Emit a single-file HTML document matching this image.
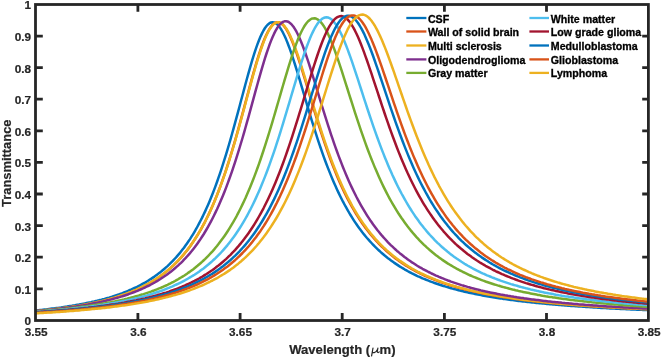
<!DOCTYPE html>
<html><head><meta charset="utf-8"><title>Transmittance</title>
<style>html,body{margin:0;padding:0;background:#fff}svg{display:block;will-change:transform}text{font-family:"Liberation Sans",sans-serif}</style></head>
<body>
<svg width="661" height="358" viewBox="0 0 661 358">
<rect x="0" y="0" width="661" height="358" fill="#fff"/>
<defs><clipPath id="c"><rect x="35.5" y="4.5" width="612.9" height="316.0"/></clipPath></defs>
<g clip-path="url(#c)" fill="none" stroke-width="2.5" stroke-linejoin="round" stroke-linecap="round">
<path d="M35.5 310.5 L37.0 310.3 L38.5 310.2 L40.0 310.0 L41.5 309.9 L43.0 309.7 L44.5 309.5 L46.0 309.4 L47.5 309.2 L49.0 309.0 L50.5 308.8 L52.0 308.6 L53.5 308.5 L55.0 308.3 L56.5 308.1 L58.0 307.9 L59.5 307.7 L61.0 307.5 L62.5 307.2 L64.0 307.0 L65.5 306.8 L67.0 306.6 L68.5 306.3 L70.0 306.1 L71.5 305.9 L73.0 305.6 L74.5 305.4 L76.0 305.1 L77.5 304.8 L79.0 304.6 L80.5 304.3 L82.0 304.0 L83.5 303.7 L85.0 303.4 L86.5 303.1 L88.0 302.8 L89.5 302.5 L91.0 302.2 L92.5 301.8 L94.0 301.5 L95.5 301.1 L97.0 300.8 L98.5 300.4 L100.0 300.0 L101.5 299.7 L103.0 299.3 L104.5 298.9 L106.0 298.4 L107.5 298.0 L109.0 297.6 L110.5 297.1 L112.0 296.7 L113.5 296.2 L115.0 295.7 L116.5 295.2 L118.0 294.7 L119.5 294.2 L121.0 293.6 L122.5 293.1 L124.0 292.5 L125.5 291.9 L127.0 291.3 L128.5 290.7 L130.0 290.0 L131.5 289.4 L133.0 288.7 L134.5 288.0 L136.0 287.3 L137.5 286.6 L139.0 285.8 L140.5 285.0 L142.0 284.2 L143.5 283.4 L145.0 282.6 L146.5 281.7 L148.0 280.8 L149.5 279.8 L151.0 278.9 L152.5 277.9 L154.0 276.9 L155.5 275.8 L157.0 274.7 L158.5 273.6 L160.0 272.4 L161.5 271.3 L163.0 270.0 L164.5 268.7 L166.0 267.4 L167.5 266.1 L169.0 264.7 L170.5 263.2 L172.0 261.7 L173.5 260.1 L175.0 258.5 L176.5 256.9 L178.0 255.1 L179.5 253.4 L181.0 251.5 L182.5 249.6 L184.0 247.7 L185.5 245.6 L187.0 243.5 L188.5 241.3 L190.0 239.1 L191.5 236.7 L193.0 234.3 L194.5 231.8 L196.0 229.2 L197.5 226.5 L199.0 223.7 L200.5 220.8 L202.0 217.9 L203.5 214.8 L205.0 211.6 L206.5 208.3 L208.0 204.9 L209.5 201.4 L211.0 197.7 L212.5 194.0 L214.0 190.1 L215.5 186.1 L217.0 182.0 L218.5 177.7 L220.0 173.3 L221.5 168.8 L223.0 164.2 L224.5 159.4 L226.0 154.6 L227.5 149.6 L229.0 144.5 L230.5 139.3 L232.0 134.0 L233.5 128.6 L235.0 123.2 L236.5 117.6 L238.0 112.1 L239.5 106.5 L241.0 100.8 L242.5 95.2 L244.0 89.6 L245.5 84.0 L247.0 78.5 L248.5 73.1 L250.0 67.8 L251.5 62.6 L253.0 57.7 L254.5 52.9 L256.0 48.4 L257.5 44.2 L259.0 40.2 L260.5 36.6 L262.0 33.4 L263.5 30.5 L265.0 28.0 L266.5 26.0 L268.0 24.4 L269.5 23.2 L271.0 22.5 L272.5 22.2 L274.0 22.4 L275.5 23.1 L277.0 24.2 L278.5 25.7 L280.0 27.6 L281.5 30.0 L283.0 32.7 L284.5 35.7 L286.0 39.1 L287.5 42.8 L289.0 46.7 L290.5 50.9 L292.0 55.2 L293.5 59.8 L295.0 64.5 L296.5 69.3 L298.0 74.2 L299.5 79.2 L301.0 84.3 L302.5 89.4 L304.0 94.5 L305.5 99.5 L307.0 104.6 L308.5 109.7 L310.0 114.6 L311.5 119.6 L313.0 124.4 L314.5 129.2 L316.0 133.9 L317.5 138.6 L319.0 143.1 L320.5 147.5 L322.0 151.8 L323.5 156.1 L325.0 160.2 L326.5 164.2 L328.0 168.1 L329.5 171.9 L331.0 175.6 L332.5 179.2 L334.0 182.7 L335.5 186.1 L337.0 189.4 L338.5 192.6 L340.0 195.7 L341.5 198.7 L343.0 201.7 L344.5 204.5 L346.0 207.2 L347.5 209.9 L349.0 212.5 L350.5 215.0 L352.0 217.4 L353.5 219.8 L355.0 222.1 L356.5 224.3 L358.0 226.4 L359.5 228.5 L361.0 230.5 L362.5 232.5 L364.0 234.4 L365.5 236.2 L367.0 238.0 L368.5 239.7 L370.0 241.4 L371.5 243.0 L373.0 244.6 L374.5 246.2 L376.0 247.7 L377.5 249.1 L379.0 250.5 L380.5 251.9 L382.0 253.2 L383.5 254.5 L385.0 255.8 L386.5 257.0 L388.0 258.2 L389.5 259.3 L391.0 260.4 L392.5 261.5 L394.0 262.6 L395.5 263.6 L397.0 264.6 L398.5 265.6 L400.0 266.6 L401.5 267.5 L403.0 268.4 L404.5 269.3 L406.0 270.1 L407.5 271.0 L409.0 271.8 L410.5 272.6 L412.0 273.4 L413.5 274.1 L415.0 274.8 L416.5 275.6 L418.0 276.3 L419.5 276.9 L421.0 277.6 L422.5 278.3 L424.0 278.9 L425.5 279.5 L427.0 280.1 L428.5 280.7 L430.0 281.3 L431.5 281.9 L433.0 282.4 L434.5 283.0 L436.0 283.5 L437.5 284.0 L439.0 284.5 L440.5 285.0 L442.0 285.5 L443.5 286.0 L445.0 286.4 L446.5 286.9 L448.0 287.3 L449.5 287.8 L451.0 288.2 L452.5 288.6 L454.0 289.0 L455.5 289.4 L457.0 289.8 L458.5 290.2 L460.0 290.6 L461.5 290.9 L463.0 291.3 L464.5 291.7 L466.0 292.0 L467.5 292.3 L469.0 292.7 L470.5 293.0 L472.0 293.3 L473.5 293.6 L475.0 293.9 L476.5 294.2 L478.0 294.5 L479.5 294.8 L481.0 295.1 L482.5 295.4 L484.0 295.7 L485.5 296.0 L487.0 296.2 L488.5 296.5 L490.0 296.7 L491.5 297.0 L493.0 297.2 L494.5 297.5 L496.0 297.7 L497.5 298.0 L499.0 298.2 L500.5 298.4 L502.0 298.6 L503.5 298.9 L505.0 299.1 L506.5 299.3 L508.0 299.5 L509.5 299.7 L511.0 299.9 L512.5 300.1 L514.0 300.3 L515.5 300.5 L517.0 300.7 L518.5 300.9 L520.0 301.0 L521.5 301.2 L523.0 301.4 L524.5 301.6 L526.0 301.8 L527.5 301.9 L529.0 302.1 L530.5 302.3 L532.0 302.4 L533.5 302.6 L535.0 302.7 L536.5 302.9 L538.0 303.0 L539.5 303.2 L541.0 303.3 L542.5 303.5 L544.0 303.6 L545.5 303.8 L547.0 303.9 L548.5 304.0 L550.0 304.2 L551.5 304.3 L553.0 304.4 L554.5 304.6 L556.0 304.7 L557.5 304.8 L559.0 305.0 L560.5 305.1 L562.0 305.2 L563.5 305.3 L565.0 305.4 L566.5 305.6 L568.0 305.7 L569.5 305.8 L571.0 305.9 L572.5 306.0 L574.0 306.1 L575.5 306.2 L577.0 306.3 L578.5 306.4 L580.0 306.5 L581.5 306.6 L583.0 306.7 L584.5 306.8 L586.0 306.9 L587.5 307.0 L589.0 307.1 L590.5 307.2 L592.0 307.3 L593.5 307.4 L595.0 307.5 L596.5 307.6 L598.0 307.7 L599.5 307.8 L601.0 307.9 L602.5 307.9 L604.0 308.0 L605.5 308.1 L607.0 308.2 L608.5 308.3 L610.0 308.4 L611.5 308.4 L613.0 308.5 L614.5 308.6 L616.0 308.7 L617.5 308.7 L619.0 308.8 L620.5 308.9 L622.0 309.0 L623.5 309.0 L625.0 309.1 L626.5 309.2 L628.0 309.2 L629.5 309.3 L631.0 309.4 L632.5 309.5 L634.0 309.5 L635.5 309.6 L637.0 309.7 L638.5 309.7 L640.0 309.8 L641.5 309.8 L643.0 309.9 L644.5 310.0 L646.0 310.0 L647.5 310.1" stroke="#0072BD"/>
<path d="M35.5 311.2 L37.0 311.1 L38.5 311.0 L40.0 310.8 L41.5 310.7 L43.0 310.5 L44.5 310.4 L46.0 310.2 L47.5 310.0 L49.0 309.9 L50.5 309.7 L52.0 309.5 L53.5 309.4 L55.0 309.2 L56.5 309.0 L58.0 308.8 L59.5 308.6 L61.0 308.4 L62.5 308.3 L64.0 308.0 L65.5 307.8 L67.0 307.6 L68.5 307.4 L70.0 307.2 L71.5 307.0 L73.0 306.7 L74.5 306.5 L76.0 306.3 L77.5 306.0 L79.0 305.8 L80.5 305.5 L82.0 305.3 L83.5 305.0 L85.0 304.7 L86.5 304.4 L88.0 304.1 L89.5 303.9 L91.0 303.6 L92.5 303.2 L94.0 302.9 L95.5 302.6 L97.0 302.3 L98.5 301.9 L100.0 301.6 L101.5 301.2 L103.0 300.9 L104.5 300.5 L106.0 300.1 L107.5 299.7 L109.0 299.3 L110.5 298.9 L112.0 298.5 L113.5 298.0 L115.0 297.6 L116.5 297.1 L118.0 296.7 L119.5 296.2 L121.0 295.7 L122.5 295.2 L124.0 294.7 L125.5 294.1 L127.0 293.6 L128.5 293.0 L130.0 292.4 L131.5 291.8 L133.0 291.2 L134.5 290.6 L136.0 289.9 L137.5 289.2 L139.0 288.6 L140.5 287.8 L142.0 287.1 L143.5 286.4 L145.0 285.6 L146.5 284.8 L148.0 284.0 L149.5 283.1 L151.0 282.3 L152.5 281.4 L154.0 280.4 L155.5 279.5 L157.0 278.5 L158.5 277.5 L160.0 276.4 L161.5 275.3 L163.0 274.2 L164.5 273.1 L166.0 271.9 L167.5 270.6 L169.0 269.4 L170.5 268.1 L172.0 266.7 L173.5 265.3 L175.0 263.9 L176.5 262.4 L178.0 260.8 L179.5 259.2 L181.0 257.6 L182.5 255.9 L184.0 254.1 L185.5 252.3 L187.0 250.4 L188.5 248.4 L190.0 246.4 L191.5 244.3 L193.0 242.1 L194.5 239.9 L196.0 237.5 L197.5 235.1 L199.0 232.6 L200.5 230.1 L202.0 227.4 L203.5 224.6 L205.0 221.8 L206.5 218.8 L208.0 215.7 L209.5 212.6 L211.0 209.3 L212.5 205.9 L214.0 202.4 L215.5 198.8 L217.0 195.1 L218.5 191.2 L220.0 187.2 L221.5 183.1 L223.0 178.9 L224.5 174.6 L226.0 170.1 L227.5 165.5 L229.0 160.8 L230.5 155.9 L232.0 151.0 L233.5 145.9 L235.0 140.8 L236.5 135.5 L238.0 130.1 L239.5 124.7 L241.0 119.2 L242.5 113.7 L244.0 108.1 L245.5 102.4 L247.0 96.8 L248.5 91.2 L250.0 85.6 L251.5 80.1 L253.0 74.7 L254.5 69.4 L256.0 64.2 L257.5 59.2 L259.0 54.4 L260.5 49.9 L262.0 45.5 L263.5 41.5 L265.0 37.8 L266.5 34.5 L268.0 31.5 L269.5 28.9 L271.0 26.7 L272.5 24.9 L274.0 23.6 L275.5 22.7 L277.0 22.3 L278.5 22.3 L280.0 22.7 L281.5 23.6 L283.0 25.0 L284.5 26.7 L286.0 28.9 L287.5 31.4 L289.0 34.2 L290.5 37.4 L292.0 40.9 L293.5 44.7 L295.0 48.7 L296.5 52.9 L298.0 57.3 L299.5 61.9 L301.0 66.6 L302.5 71.4 L304.0 76.3 L305.5 81.2 L307.0 86.2 L308.5 91.3 L310.0 96.3 L311.5 101.3 L313.0 106.3 L314.5 111.3 L316.0 116.2 L317.5 121.0 L319.0 125.8 L320.5 130.5 L322.0 135.1 L323.5 139.6 L325.0 144.0 L326.5 148.4 L328.0 152.6 L329.5 156.7 L331.0 160.8 L332.5 164.7 L334.0 168.5 L335.5 172.3 L337.0 175.9 L338.5 179.4 L340.0 182.9 L341.5 186.2 L343.0 189.4 L344.5 192.6 L346.0 195.6 L347.5 198.6 L349.0 201.4 L350.5 204.2 L352.0 206.9 L353.5 209.5 L355.0 212.1 L356.5 214.6 L358.0 216.9 L359.5 219.3 L361.0 221.5 L362.5 223.7 L364.0 225.8 L365.5 227.9 L367.0 229.8 L368.5 231.8 L370.0 233.7 L371.5 235.5 L373.0 237.2 L374.5 239.0 L376.0 240.6 L377.5 242.2 L379.0 243.8 L380.5 245.3 L382.0 246.8 L383.5 248.2 L385.0 249.6 L386.5 251.0 L388.0 252.3 L389.5 253.6 L391.0 254.8 L392.5 256.0 L394.0 257.2 L395.5 258.4 L397.0 259.5 L398.5 260.6 L400.0 261.6 L401.5 262.7 L403.0 263.7 L404.5 264.6 L406.0 265.6 L407.5 266.5 L409.0 267.4 L410.5 268.3 L412.0 269.1 L413.5 270.0 L415.0 270.8 L416.5 271.6 L418.0 272.4 L419.5 273.1 L421.0 273.9 L422.5 274.6 L424.0 275.3 L425.5 276.0 L427.0 276.6 L428.5 277.3 L430.0 277.9 L431.5 278.5 L433.0 279.2 L434.5 279.8 L436.0 280.3 L437.5 280.9 L439.0 281.5 L440.5 282.0 L442.0 282.5 L443.5 283.1 L445.0 283.6 L446.5 284.1 L448.0 284.5 L449.5 285.0 L451.0 285.5 L452.5 285.9 L454.0 286.4 L455.5 286.8 L457.0 287.3 L458.5 287.7 L460.0 288.1 L461.5 288.5 L463.0 288.9 L464.5 289.3 L466.0 289.7 L467.5 290.0 L469.0 290.4 L470.5 290.7 L472.0 291.1 L473.5 291.4 L475.0 291.8 L476.5 292.1 L478.0 292.4 L479.5 292.7 L481.0 293.1 L482.5 293.4 L484.0 293.7 L485.5 294.0 L487.0 294.3 L488.5 294.5 L490.0 294.8 L491.5 295.1 L493.0 295.4 L494.5 295.6 L496.0 295.9 L497.5 296.1 L499.0 296.4 L500.5 296.6 L502.0 296.9 L503.5 297.1 L505.0 297.4 L506.5 297.6 L508.0 297.8 L509.5 298.0 L511.0 298.3 L512.5 298.5 L514.0 298.7 L515.5 298.9 L517.0 299.1 L518.5 299.3 L520.0 299.5 L521.5 299.7 L523.0 299.9 L524.5 300.1 L526.0 300.3 L527.5 300.4 L529.0 300.6 L530.5 300.8 L532.0 301.0 L533.5 301.2 L535.0 301.3 L536.5 301.5 L538.0 301.7 L539.5 301.8 L541.0 302.0 L542.5 302.1 L544.0 302.3 L545.5 302.4 L547.0 302.6 L548.5 302.7 L550.0 302.9 L551.5 303.0 L553.0 303.2 L554.5 303.3 L556.0 303.5 L557.5 303.6 L559.0 303.7 L560.5 303.9 L562.0 304.0 L563.5 304.1 L565.0 304.2 L566.5 304.4 L568.0 304.5 L569.5 304.6 L571.0 304.7 L572.5 304.9 L574.0 305.0 L575.5 305.1 L577.0 305.2 L578.5 305.3 L580.0 305.4 L581.5 305.5 L583.0 305.6 L584.5 305.8 L586.0 305.9 L587.5 306.0 L589.0 306.1 L590.5 306.2 L592.0 306.3 L593.5 306.4 L595.0 306.5 L596.5 306.6 L598.0 306.7 L599.5 306.7 L601.0 306.8 L602.5 306.9 L604.0 307.0 L605.5 307.1 L607.0 307.2 L608.5 307.3 L610.0 307.4 L611.5 307.5 L613.0 307.5 L614.5 307.6 L616.0 307.7 L617.5 307.8 L619.0 307.9 L620.5 308.0 L622.0 308.0 L623.5 308.1 L625.0 308.2 L626.5 308.3 L628.0 308.3 L629.5 308.4 L631.0 308.5 L632.5 308.6 L634.0 308.6 L635.5 308.7 L637.0 308.8 L638.5 308.8 L640.0 308.9 L641.5 309.0 L643.0 309.1 L644.5 309.1 L646.0 309.2 L647.5 309.3" stroke="#D95319"/>
<path d="M35.5 311.2 L37.0 311.0 L38.5 310.9 L40.0 310.7 L41.5 310.6 L43.0 310.4 L44.5 310.3 L46.0 310.1 L47.5 310.0 L49.0 309.8 L50.5 309.6 L52.0 309.5 L53.5 309.3 L55.0 309.1 L56.5 308.9 L58.0 308.7 L59.5 308.5 L61.0 308.3 L62.5 308.1 L64.0 307.9 L65.5 307.7 L67.0 307.5 L68.5 307.3 L70.0 307.1 L71.5 306.9 L73.0 306.6 L74.5 306.4 L76.0 306.2 L77.5 305.9 L79.0 305.7 L80.5 305.4 L82.0 305.1 L83.5 304.9 L85.0 304.6 L86.5 304.3 L88.0 304.0 L89.5 303.7 L91.0 303.4 L92.5 303.1 L94.0 302.8 L95.5 302.5 L97.0 302.1 L98.5 301.8 L100.0 301.5 L101.5 301.1 L103.0 300.7 L104.5 300.4 L106.0 300.0 L107.5 299.6 L109.0 299.2 L110.5 298.8 L112.0 298.3 L113.5 297.9 L115.0 297.5 L116.5 297.0 L118.0 296.5 L119.5 296.0 L121.0 295.5 L122.5 295.0 L124.0 294.5 L125.5 294.0 L127.0 293.4 L128.5 292.8 L130.0 292.3 L131.5 291.7 L133.0 291.0 L134.5 290.4 L136.0 289.8 L137.5 289.1 L139.0 288.4 L140.5 287.7 L142.0 287.0 L143.5 286.2 L145.0 285.4 L146.5 284.6 L148.0 283.8 L149.5 283.0 L151.0 282.1 L152.5 281.2 L154.0 280.3 L155.5 279.3 L157.0 278.3 L158.5 277.3 L160.0 276.3 L161.5 275.2 L163.0 274.1 L164.5 272.9 L166.0 271.7 L167.5 270.5 L169.0 269.2 L170.5 267.9 L172.0 266.6 L173.5 265.2 L175.0 263.7 L176.5 262.2 L178.0 260.7 L179.5 259.1 L181.0 257.4 L182.5 255.7 L184.0 254.0 L185.5 252.1 L187.0 250.3 L188.5 248.3 L190.0 246.3 L191.5 244.2 L193.0 242.0 L194.5 239.8 L196.0 237.5 L197.5 235.1 L199.0 232.6 L200.5 230.0 L202.0 227.4 L203.5 224.6 L205.0 221.8 L206.5 218.8 L208.0 215.8 L209.5 212.7 L211.0 209.4 L212.5 206.0 L214.0 202.6 L215.5 199.0 L217.0 195.3 L218.5 191.4 L220.0 187.5 L221.5 183.4 L223.0 179.2 L224.5 174.9 L226.0 170.5 L227.5 165.9 L229.0 161.2 L230.5 156.4 L232.0 151.5 L233.5 146.5 L235.0 141.4 L236.5 136.2 L238.0 130.8 L239.5 125.5 L241.0 120.0 L242.5 114.5 L244.0 108.9 L245.5 103.3 L247.0 97.7 L248.5 92.1 L250.0 86.6 L251.5 81.1 L253.0 75.7 L254.5 70.4 L256.0 65.2 L257.5 60.2 L259.0 55.4 L260.5 50.8 L262.0 46.5 L263.5 42.4 L265.0 38.6 L266.5 35.2 L268.0 32.1 L269.5 29.5 L271.0 27.2 L272.5 25.3 L274.0 23.9 L275.5 22.9 L277.0 22.3 L278.5 22.2 L280.0 22.6 L281.5 23.3 L283.0 24.5 L284.5 26.2 L286.0 28.2 L287.5 30.5 L289.0 33.3 L290.5 36.4 L292.0 39.7 L293.5 43.4 L295.0 47.3 L296.5 51.4 L298.0 55.7 L299.5 60.2 L301.0 64.9 L302.5 69.6 L304.0 74.5 L305.5 79.4 L307.0 84.3 L308.5 89.3 L310.0 94.3 L311.5 99.3 L313.0 104.3 L314.5 109.2 L316.0 114.1 L317.5 119.0 L319.0 123.7 L320.5 128.4 L322.0 133.1 L323.5 137.6 L325.0 142.1 L326.5 146.4 L328.0 150.7 L329.5 154.8 L331.0 158.9 L332.5 162.9 L334.0 166.7 L335.5 170.5 L337.0 174.1 L338.5 177.7 L340.0 181.1 L341.5 184.5 L343.0 187.8 L344.5 190.9 L346.0 194.0 L347.5 197.0 L349.0 199.9 L350.5 202.7 L352.0 205.5 L353.5 208.1 L355.0 210.7 L356.5 213.2 L358.0 215.6 L359.5 217.9 L361.0 220.2 L362.5 222.4 L364.0 224.6 L365.5 226.6 L367.0 228.7 L368.5 230.6 L370.0 232.5 L371.5 234.4 L373.0 236.1 L374.5 237.9 L376.0 239.6 L377.5 241.2 L379.0 242.8 L380.5 244.3 L382.0 245.8 L383.5 247.3 L385.0 248.7 L386.5 250.1 L388.0 251.4 L389.5 252.7 L391.0 254.0 L392.5 255.2 L394.0 256.4 L395.5 257.6 L397.0 258.7 L398.5 259.8 L400.0 260.9 L401.5 261.9 L403.0 262.9 L404.5 263.9 L406.0 264.9 L407.5 265.8 L409.0 266.7 L410.5 267.6 L412.0 268.5 L413.5 269.3 L415.0 270.2 L416.5 271.0 L418.0 271.8 L419.5 272.5 L421.0 273.3 L422.5 274.0 L424.0 274.7 L425.5 275.4 L427.0 276.1 L428.5 276.7 L430.0 277.4 L431.5 278.0 L433.0 278.6 L434.5 279.2 L436.0 279.8 L437.5 280.4 L439.0 281.0 L440.5 281.5 L442.0 282.1 L443.5 282.6 L445.0 283.1 L446.5 283.6 L448.0 284.1 L449.5 284.6 L451.0 285.1 L452.5 285.5 L454.0 286.0 L455.5 286.4 L457.0 286.9 L458.5 287.3 L460.0 287.7 L461.5 288.1 L463.0 288.5 L464.5 288.9 L466.0 289.3 L467.5 289.7 L469.0 290.0 L470.5 290.4 L472.0 290.7 L473.5 291.1 L475.0 291.4 L476.5 291.8 L478.0 292.1 L479.5 292.4 L481.0 292.7 L482.5 293.1 L484.0 293.4 L485.5 293.7 L487.0 294.0 L488.5 294.2 L490.0 294.5 L491.5 294.8 L493.0 295.1 L494.5 295.3 L496.0 295.6 L497.5 295.9 L499.0 296.1 L500.5 296.4 L502.0 296.6 L503.5 296.9 L505.0 297.1 L506.5 297.3 L508.0 297.6 L509.5 297.8 L511.0 298.0 L512.5 298.2 L514.0 298.4 L515.5 298.7 L517.0 298.9 L518.5 299.1 L520.0 299.3 L521.5 299.5 L523.0 299.7 L524.5 299.9 L526.0 300.0 L527.5 300.2 L529.0 300.4 L530.5 300.6 L532.0 300.8 L533.5 300.9 L535.0 301.1 L536.5 301.3 L538.0 301.5 L539.5 301.6 L541.0 301.8 L542.5 301.9 L544.0 302.1 L545.5 302.2 L547.0 302.4 L548.5 302.6 L550.0 302.7 L551.5 302.8 L553.0 303.0 L554.5 303.1 L556.0 303.3 L557.5 303.4 L559.0 303.5 L560.5 303.7 L562.0 303.8 L563.5 303.9 L565.0 304.1 L566.5 304.2 L568.0 304.3 L569.5 304.5 L571.0 304.6 L572.5 304.7 L574.0 304.8 L575.5 304.9 L577.0 305.0 L578.5 305.2 L580.0 305.3 L581.5 305.4 L583.0 305.5 L584.5 305.6 L586.0 305.7 L587.5 305.8 L589.0 305.9 L590.5 306.0 L592.0 306.1 L593.5 306.2 L595.0 306.3 L596.5 306.4 L598.0 306.5 L599.5 306.6 L601.0 306.7 L602.5 306.8 L604.0 306.9 L605.5 307.0 L607.0 307.1 L608.5 307.2 L610.0 307.2 L611.5 307.3 L613.0 307.4 L614.5 307.5 L616.0 307.6 L617.5 307.7 L619.0 307.8 L620.5 307.8 L622.0 307.9 L623.5 308.0 L625.0 308.1 L626.5 308.1 L628.0 308.2 L629.5 308.3 L631.0 308.4 L632.5 308.4 L634.0 308.5 L635.5 308.6 L637.0 308.7 L638.5 308.7 L640.0 308.8 L641.5 308.9 L643.0 308.9 L644.5 309.0 L646.0 309.1 L647.5 309.1" stroke="#EDB120"/>
<path d="M35.5 311.2 L37.0 311.1 L38.5 310.9 L40.0 310.8 L41.5 310.7 L43.0 310.5 L44.5 310.4 L46.0 310.2 L47.5 310.1 L49.0 309.9 L50.5 309.7 L52.0 309.6 L53.5 309.4 L55.0 309.2 L56.5 309.1 L58.0 308.9 L59.5 308.7 L61.0 308.5 L62.5 308.3 L64.0 308.2 L65.5 308.0 L67.0 307.8 L68.5 307.6 L70.0 307.3 L71.5 307.1 L73.0 306.9 L74.5 306.7 L76.0 306.5 L77.5 306.2 L79.0 306.0 L80.5 305.8 L82.0 305.5 L83.5 305.3 L85.0 305.0 L86.5 304.7 L88.0 304.5 L89.5 304.2 L91.0 303.9 L92.5 303.6 L94.0 303.3 L95.5 303.0 L97.0 302.7 L98.5 302.4 L100.0 302.1 L101.5 301.7 L103.0 301.4 L104.5 301.1 L106.0 300.7 L107.5 300.3 L109.0 300.0 L110.5 299.6 L112.0 299.2 L113.5 298.8 L115.0 298.4 L116.5 298.0 L118.0 297.5 L119.5 297.1 L121.0 296.6 L122.5 296.2 L124.0 295.7 L125.5 295.2 L127.0 294.7 L128.5 294.2 L130.0 293.6 L131.5 293.1 L133.0 292.5 L134.5 292.0 L136.0 291.4 L137.5 290.8 L139.0 290.1 L140.5 289.5 L142.0 288.8 L143.5 288.2 L145.0 287.5 L146.5 286.7 L148.0 286.0 L149.5 285.3 L151.0 284.5 L152.5 283.7 L154.0 282.8 L155.5 282.0 L157.0 281.1 L158.5 280.2 L160.0 279.3 L161.5 278.3 L163.0 277.3 L164.5 276.3 L166.0 275.3 L167.5 274.2 L169.0 273.1 L170.5 271.9 L172.0 270.7 L173.5 269.5 L175.0 268.2 L176.5 266.9 L178.0 265.6 L179.5 264.2 L181.0 262.8 L182.5 261.3 L184.0 259.7 L185.5 258.2 L187.0 256.5 L188.5 254.8 L190.0 253.1 L191.5 251.3 L193.0 249.4 L194.5 247.5 L196.0 245.5 L197.5 243.4 L199.0 241.3 L200.5 239.1 L202.0 236.8 L203.5 234.5 L205.0 232.0 L206.5 229.5 L208.0 226.9 L209.5 224.2 L211.0 221.4 L212.5 218.5 L214.0 215.5 L215.5 212.4 L217.0 209.3 L218.5 206.0 L220.0 202.6 L221.5 199.1 L223.0 195.5 L224.5 191.7 L226.0 187.9 L227.5 183.9 L229.0 179.8 L230.5 175.6 L232.0 171.3 L233.5 166.9 L235.0 162.3 L236.5 157.7 L238.0 152.9 L239.5 148.0 L241.0 143.0 L242.5 138.0 L244.0 132.8 L245.5 127.5 L247.0 122.2 L248.5 116.8 L250.0 111.4 L251.5 105.9 L253.0 100.4 L254.5 94.9 L256.0 89.4 L257.5 84.0 L259.0 78.6 L260.5 73.3 L262.0 68.2 L263.5 63.1 L265.0 58.2 L266.5 53.5 L268.0 49.1 L269.5 44.8 L271.0 40.9 L272.5 37.2 L274.0 33.9 L275.5 30.9 L277.0 28.3 L278.5 26.1 L280.0 24.3 L281.5 22.9 L283.0 21.9 L284.5 21.3 L286.0 21.2 L287.5 21.5 L289.0 22.2 L290.5 23.4 L292.0 24.9 L293.5 26.8 L295.0 29.1 L296.5 31.7 L298.0 34.7 L299.5 38.0 L301.0 41.5 L302.5 45.3 L304.0 49.3 L305.5 53.5 L307.0 57.9 L308.5 62.4 L310.0 67.0 L311.5 71.8 L313.0 76.6 L314.5 81.5 L316.0 86.4 L317.5 91.3 L319.0 96.2 L320.5 101.2 L322.0 106.0 L323.5 110.9 L325.0 115.7 L326.5 120.4 L328.0 125.1 L329.5 129.7 L331.0 134.3 L332.5 138.7 L334.0 143.1 L335.5 147.3 L337.0 151.5 L338.5 155.6 L340.0 159.5 L341.5 163.4 L343.0 167.2 L344.5 170.9 L346.0 174.5 L347.5 178.0 L349.0 181.4 L350.5 184.7 L352.0 187.9 L353.5 191.0 L355.0 194.0 L356.5 197.0 L358.0 199.8 L359.5 202.6 L361.0 205.3 L362.5 207.9 L364.0 210.4 L365.5 212.9 L367.0 215.3 L368.5 217.6 L370.0 219.9 L371.5 222.0 L373.0 224.2 L374.5 226.2 L376.0 228.2 L377.5 230.2 L379.0 232.0 L380.5 233.9 L382.0 235.7 L383.5 237.4 L385.0 239.0 L386.5 240.7 L388.0 242.3 L389.5 243.8 L391.0 245.3 L392.5 246.7 L394.0 248.1 L395.5 249.5 L397.0 250.9 L398.5 252.1 L400.0 253.4 L401.5 254.6 L403.0 255.8 L404.5 257.0 L406.0 258.1 L407.5 259.2 L409.0 260.3 L410.5 261.3 L412.0 262.4 L413.5 263.3 L415.0 264.3 L416.5 265.3 L418.0 266.2 L419.5 267.1 L421.0 267.9 L422.5 268.8 L424.0 269.6 L425.5 270.4 L427.0 271.2 L428.5 272.0 L430.0 272.7 L431.5 273.5 L433.0 274.2 L434.5 274.9 L436.0 275.6 L437.5 276.2 L439.0 276.9 L440.5 277.5 L442.0 278.1 L443.5 278.7 L445.0 279.3 L446.5 279.9 L448.0 280.5 L449.5 281.0 L451.0 281.6 L452.5 282.1 L454.0 282.6 L455.5 283.1 L457.0 283.6 L458.5 284.1 L460.0 284.6 L461.5 285.1 L463.0 285.5 L464.5 286.0 L466.0 286.4 L467.5 286.9 L469.0 287.3 L470.5 287.7 L472.0 288.1 L473.5 288.5 L475.0 288.9 L476.5 289.3 L478.0 289.6 L479.5 290.0 L481.0 290.4 L482.5 290.7 L484.0 291.1 L485.5 291.4 L487.0 291.7 L488.5 292.1 L490.0 292.4 L491.5 292.7 L493.0 293.0 L494.5 293.3 L496.0 293.6 L497.5 293.9 L499.0 294.2 L500.5 294.5 L502.0 294.7 L503.5 295.0 L505.0 295.3 L506.5 295.5 L508.0 295.8 L509.5 296.0 L511.0 296.3 L512.5 296.5 L514.0 296.8 L515.5 297.0 L517.0 297.3 L518.5 297.5 L520.0 297.7 L521.5 297.9 L523.0 298.1 L524.5 298.4 L526.0 298.6 L527.5 298.8 L529.0 299.0 L530.5 299.2 L532.0 299.4 L533.5 299.6 L535.0 299.8 L536.5 300.0 L538.0 300.1 L539.5 300.3 L541.0 300.5 L542.5 300.7 L544.0 300.9 L545.5 301.0 L547.0 301.2 L548.5 301.4 L550.0 301.5 L551.5 301.7 L553.0 301.9 L554.5 302.0 L556.0 302.2 L557.5 302.3 L559.0 302.5 L560.5 302.6 L562.0 302.8 L563.5 302.9 L565.0 303.1 L566.5 303.2 L568.0 303.3 L569.5 303.5 L571.0 303.6 L572.5 303.7 L574.0 303.9 L575.5 304.0 L577.0 304.1 L578.5 304.3 L580.0 304.4 L581.5 304.5 L583.0 304.6 L584.5 304.7 L586.0 304.9 L587.5 305.0 L589.0 305.1 L590.5 305.2 L592.0 305.3 L593.5 305.4 L595.0 305.5 L596.5 305.6 L598.0 305.7 L599.5 305.9 L601.0 306.0 L602.5 306.1 L604.0 306.2 L605.5 306.3 L607.0 306.4 L608.5 306.5 L610.0 306.6 L611.5 306.6 L613.0 306.7 L614.5 306.8 L616.0 306.9 L617.5 307.0 L619.0 307.1 L620.5 307.2 L622.0 307.3 L623.5 307.4 L625.0 307.5 L626.5 307.5 L628.0 307.6 L629.5 307.7 L631.0 307.8 L632.5 307.9 L634.0 307.9 L635.5 308.0 L637.0 308.1 L638.5 308.2 L640.0 308.3 L641.5 308.3 L643.0 308.4 L644.5 308.5 L646.0 308.5 L647.5 308.6" stroke="#7E2F8E"/>
<path d="M35.5 311.5 L37.0 311.3 L38.5 311.2 L40.0 311.1 L41.5 311.0 L43.0 310.9 L44.5 310.7 L46.0 310.6 L47.5 310.5 L49.0 310.4 L50.5 310.2 L52.0 310.1 L53.5 309.9 L55.0 309.8 L56.5 309.7 L58.0 309.5 L59.5 309.4 L61.0 309.2 L62.5 309.1 L64.0 308.9 L65.5 308.8 L67.0 308.6 L68.5 308.4 L70.0 308.3 L71.5 308.1 L73.0 307.9 L74.5 307.7 L76.0 307.6 L77.5 307.4 L79.0 307.2 L80.5 307.0 L82.0 306.8 L83.5 306.6 L85.0 306.4 L86.5 306.2 L88.0 306.0 L89.5 305.8 L91.0 305.5 L92.5 305.3 L94.0 305.1 L95.5 304.9 L97.0 304.6 L98.5 304.4 L100.0 304.1 L101.5 303.9 L103.0 303.6 L104.5 303.4 L106.0 303.1 L107.5 302.8 L109.0 302.5 L110.5 302.3 L112.0 302.0 L113.5 301.7 L115.0 301.4 L116.5 301.1 L118.0 300.7 L119.5 300.4 L121.0 300.1 L122.5 299.7 L124.0 299.4 L125.5 299.0 L127.0 298.7 L128.5 298.3 L130.0 297.9 L131.5 297.5 L133.0 297.1 L134.5 296.7 L136.0 296.3 L137.5 295.9 L139.0 295.5 L140.5 295.0 L142.0 294.5 L143.5 294.1 L145.0 293.6 L146.5 293.1 L148.0 292.6 L149.5 292.1 L151.0 291.6 L152.5 291.0 L154.0 290.5 L155.5 289.9 L157.0 289.3 L158.5 288.7 L160.0 288.1 L161.5 287.5 L163.0 286.8 L164.5 286.1 L166.0 285.5 L167.5 284.8 L169.0 284.0 L170.5 283.3 L172.0 282.5 L173.5 281.8 L175.0 281.0 L176.5 280.1 L178.0 279.3 L179.5 278.4 L181.0 277.5 L182.5 276.6 L184.0 275.7 L185.5 274.7 L187.0 273.7 L188.5 272.6 L190.0 271.6 L191.5 270.5 L193.0 269.4 L194.5 268.2 L196.0 267.0 L197.5 265.8 L199.0 264.5 L200.5 263.2 L202.0 261.9 L203.5 260.5 L205.0 259.1 L206.5 257.6 L208.0 256.1 L209.5 254.5 L211.0 252.9 L212.5 251.3 L214.0 249.6 L215.5 247.8 L217.0 246.0 L218.5 244.1 L220.0 242.1 L221.5 240.1 L223.0 238.1 L224.5 236.0 L226.0 233.8 L227.5 231.5 L229.0 229.1 L230.5 226.7 L232.0 224.2 L233.5 221.7 L235.0 219.0 L236.5 216.3 L238.0 213.4 L239.5 210.5 L241.0 207.5 L242.5 204.4 L244.0 201.2 L245.5 198.0 L247.0 194.6 L248.5 191.1 L250.0 187.5 L251.5 183.8 L253.0 180.0 L254.5 176.1 L256.0 172.1 L257.5 168.0 L259.0 163.8 L260.5 159.5 L262.0 155.0 L263.5 150.5 L265.0 145.9 L266.5 141.2 L268.0 136.4 L269.5 131.5 L271.0 126.6 L272.5 121.6 L274.0 116.5 L275.5 111.4 L277.0 106.2 L278.5 101.0 L280.0 95.8 L281.5 90.6 L283.0 85.5 L284.5 80.3 L286.0 75.3 L287.5 70.3 L289.0 65.4 L290.5 60.6 L292.0 55.9 L293.5 51.5 L295.0 47.2 L296.5 43.1 L298.0 39.3 L299.5 35.7 L301.0 32.5 L302.5 29.5 L304.0 26.8 L305.5 24.5 L307.0 22.5 L308.5 20.9 L310.0 19.7 L311.5 18.8 L313.0 18.4 L314.5 18.3 L316.0 18.6 L317.5 19.3 L319.0 20.4 L320.5 21.8 L322.0 23.6 L323.5 25.7 L325.0 28.2 L326.5 30.9 L328.0 33.9 L329.5 37.2 L331.0 40.7 L332.5 44.5 L334.0 48.4 L335.5 52.5 L337.0 56.8 L338.5 61.2 L340.0 65.6 L341.5 70.2 L343.0 74.9 L344.5 79.6 L346.0 84.3 L347.5 89.0 L349.0 93.8 L350.5 98.5 L352.0 103.2 L353.5 107.9 L355.0 112.6 L356.5 117.2 L358.0 121.7 L359.5 126.2 L361.0 130.6 L362.5 134.9 L364.0 139.2 L365.5 143.4 L367.0 147.5 L368.5 151.5 L370.0 155.4 L371.5 159.2 L373.0 162.9 L374.5 166.6 L376.0 170.1 L377.5 173.6 L379.0 177.0 L380.5 180.3 L382.0 183.5 L383.5 186.6 L385.0 189.6 L386.5 192.6 L388.0 195.5 L389.5 198.3 L391.0 201.0 L392.5 203.6 L394.0 206.2 L395.5 208.7 L397.0 211.1 L398.5 213.5 L400.0 215.7 L401.5 218.0 L403.0 220.1 L404.5 222.2 L406.0 224.3 L407.5 226.3 L409.0 228.2 L410.5 230.1 L412.0 231.9 L413.5 233.7 L415.0 235.4 L416.5 237.1 L418.0 238.7 L419.5 240.3 L421.0 241.8 L422.5 243.3 L424.0 244.8 L425.5 246.2 L427.0 247.6 L428.5 248.9 L430.0 250.3 L431.5 251.5 L433.0 252.8 L434.5 254.0 L436.0 255.2 L437.5 256.3 L439.0 257.4 L440.5 258.5 L442.0 259.6 L443.5 260.6 L445.0 261.6 L446.5 262.6 L448.0 263.6 L449.5 264.5 L451.0 265.4 L452.5 266.3 L454.0 267.2 L455.5 268.0 L457.0 268.9 L458.5 269.7 L460.0 270.5 L461.5 271.2 L463.0 272.0 L464.5 272.7 L466.0 273.4 L467.5 274.1 L469.0 274.8 L470.5 275.5 L472.0 276.2 L473.5 276.8 L475.0 277.4 L476.5 278.0 L478.0 278.6 L479.5 279.2 L481.0 279.8 L482.5 280.4 L484.0 280.9 L485.5 281.5 L487.0 282.0 L488.5 282.5 L490.0 283.0 L491.5 283.5 L493.0 284.0 L494.5 284.5 L496.0 284.9 L497.5 285.4 L499.0 285.8 L500.5 286.3 L502.0 286.7 L503.5 287.1 L505.0 287.5 L506.5 287.9 L508.0 288.3 L509.5 288.7 L511.0 289.1 L512.5 289.5 L514.0 289.8 L515.5 290.2 L517.0 290.5 L518.5 290.9 L520.0 291.2 L521.5 291.6 L523.0 291.9 L524.5 292.2 L526.0 292.5 L527.5 292.8 L529.0 293.1 L530.5 293.4 L532.0 293.7 L533.5 294.0 L535.0 294.3 L536.5 294.6 L538.0 294.9 L539.5 295.1 L541.0 295.4 L542.5 295.7 L544.0 295.9 L545.5 296.2 L547.0 296.4 L548.5 296.7 L550.0 296.9 L551.5 297.1 L553.0 297.4 L554.5 297.6 L556.0 297.8 L557.5 298.0 L559.0 298.3 L560.5 298.5 L562.0 298.7 L563.5 298.9 L565.0 299.1 L566.5 299.3 L568.0 299.5 L569.5 299.7 L571.0 299.9 L572.5 300.1 L574.0 300.2 L575.5 300.4 L577.0 300.6 L578.5 300.8 L580.0 301.0 L581.5 301.1 L583.0 301.3 L584.5 301.5 L586.0 301.6 L587.5 301.8 L589.0 302.0 L590.5 302.1 L592.0 302.3 L593.5 302.4 L595.0 302.6 L596.5 302.7 L598.0 302.9 L599.5 303.0 L601.0 303.2 L602.5 303.3 L604.0 303.4 L605.5 303.6 L607.0 303.7 L608.5 303.9 L610.0 304.0 L611.5 304.1 L613.0 304.2 L614.5 304.4 L616.0 304.5 L617.5 304.6 L619.0 304.7 L620.5 304.9 L622.0 305.0 L623.5 305.1 L625.0 305.2 L626.5 305.3 L628.0 305.4 L629.5 305.6 L631.0 305.7 L632.5 305.8 L634.0 305.9 L635.5 306.0 L637.0 306.1 L638.5 306.2 L640.0 306.3 L641.5 306.4 L643.0 306.5 L644.5 306.6 L646.0 306.7 L647.5 306.8" stroke="#77AC30"/>
<path d="M35.5 311.9 L37.0 311.7 L38.5 311.6 L40.0 311.5 L41.5 311.4 L43.0 311.3 L44.5 311.2 L46.0 311.1 L47.5 311.0 L49.0 310.8 L50.5 310.7 L52.0 310.6 L53.5 310.5 L55.0 310.3 L56.5 310.2 L58.0 310.1 L59.5 309.9 L61.0 309.8 L62.5 309.7 L64.0 309.5 L65.5 309.4 L67.0 309.2 L68.5 309.1 L70.0 308.9 L71.5 308.8 L73.0 308.6 L74.5 308.5 L76.0 308.3 L77.5 308.1 L79.0 308.0 L80.5 307.8 L82.0 307.6 L83.5 307.4 L85.0 307.2 L86.5 307.1 L88.0 306.9 L89.5 306.7 L91.0 306.5 L92.5 306.3 L94.0 306.1 L95.5 305.9 L97.0 305.7 L98.5 305.4 L100.0 305.2 L101.5 305.0 L103.0 304.8 L104.5 304.5 L106.0 304.3 L107.5 304.1 L109.0 303.8 L110.5 303.6 L112.0 303.3 L113.5 303.0 L115.0 302.8 L116.5 302.5 L118.0 302.2 L119.5 301.9 L121.0 301.6 L122.5 301.3 L124.0 301.0 L125.5 300.7 L127.0 300.4 L128.5 300.1 L130.0 299.7 L131.5 299.4 L133.0 299.1 L134.5 298.7 L136.0 298.3 L137.5 298.0 L139.0 297.6 L140.5 297.2 L142.0 296.8 L143.5 296.4 L145.0 296.0 L146.5 295.6 L148.0 295.1 L149.5 294.7 L151.0 294.2 L152.5 293.8 L154.0 293.3 L155.5 292.8 L157.0 292.3 L158.5 291.8 L160.0 291.3 L161.5 290.7 L163.0 290.2 L164.5 289.6 L166.0 289.0 L167.5 288.4 L169.0 287.8 L170.5 287.2 L172.0 286.6 L173.5 285.9 L175.0 285.2 L176.5 284.5 L178.0 283.8 L179.5 283.1 L181.0 282.4 L182.5 281.6 L184.0 280.8 L185.5 280.0 L187.0 279.2 L188.5 278.3 L190.0 277.4 L191.5 276.5 L193.0 275.6 L194.5 274.7 L196.0 273.7 L197.5 272.7 L199.0 271.7 L200.5 270.6 L202.0 269.5 L203.5 268.4 L205.0 267.2 L206.5 266.0 L208.0 264.8 L209.5 263.5 L211.0 262.2 L212.5 260.9 L214.0 259.5 L215.5 258.1 L217.0 256.6 L218.5 255.1 L220.0 253.6 L221.5 252.0 L223.0 250.3 L224.5 248.6 L226.0 246.9 L227.5 245.1 L229.0 243.2 L230.5 241.3 L232.0 239.3 L233.5 237.3 L235.0 235.2 L236.5 233.0 L238.0 230.8 L239.5 228.5 L241.0 226.1 L242.5 223.6 L244.0 221.1 L245.5 218.5 L247.0 215.8 L248.5 213.0 L250.0 210.2 L251.5 207.2 L253.0 204.2 L254.5 201.1 L256.0 197.9 L257.5 194.6 L259.0 191.2 L260.5 187.7 L262.0 184.1 L263.5 180.4 L265.0 176.6 L266.5 172.7 L268.0 168.7 L269.5 164.6 L271.0 160.4 L272.5 156.1 L274.0 151.8 L275.5 147.3 L277.0 142.7 L278.5 138.1 L280.0 133.3 L281.5 128.5 L283.0 123.6 L284.5 118.7 L286.0 113.7 L287.5 108.7 L289.0 103.6 L290.5 98.5 L292.0 93.4 L293.5 88.4 L295.0 83.3 L296.5 78.3 L298.0 73.4 L299.5 68.5 L301.0 63.7 L302.5 59.1 L304.0 54.5 L305.5 50.2 L307.0 46.0 L308.5 42.1 L310.0 38.3 L311.5 34.8 L313.0 31.6 L314.5 28.7 L316.0 26.1 L317.5 23.8 L319.0 21.8 L320.5 20.2 L322.0 18.9 L323.5 18.0 L325.0 17.5 L326.5 17.3 L328.0 17.5 L329.5 18.1 L331.0 19.0 L332.5 20.3 L334.0 21.9 L335.5 23.9 L337.0 26.1 L338.5 28.7 L340.0 31.5 L341.5 34.6 L343.0 37.9 L344.5 41.5 L346.0 45.2 L347.5 49.1 L349.0 53.2 L350.5 57.4 L352.0 61.7 L353.5 66.1 L355.0 70.6 L356.5 75.2 L358.0 79.7 L359.5 84.4 L361.0 89.0 L362.5 93.7 L364.0 98.3 L365.5 102.9 L367.0 107.5 L368.5 112.0 L370.0 116.5 L371.5 120.9 L373.0 125.3 L374.5 129.6 L376.0 133.9 L377.5 138.0 L379.0 142.1 L380.5 146.1 L382.0 150.1 L383.5 153.9 L385.0 157.7 L386.5 161.3 L388.0 164.9 L389.5 168.4 L391.0 171.8 L392.5 175.2 L394.0 178.4 L395.5 181.6 L397.0 184.7 L398.5 187.7 L400.0 190.6 L401.5 193.5 L403.0 196.2 L404.5 198.9 L406.0 201.5 L407.5 204.1 L409.0 206.6 L410.5 209.0 L412.0 211.4 L413.5 213.6 L415.0 215.9 L416.5 218.0 L418.0 220.1 L419.5 222.2 L421.0 224.2 L422.5 226.1 L424.0 228.0 L425.5 229.8 L427.0 231.6 L428.5 233.3 L430.0 235.0 L431.5 236.6 L433.0 238.2 L434.5 239.8 L436.0 241.3 L437.5 242.8 L439.0 244.2 L440.5 245.6 L442.0 247.0 L443.5 248.3 L445.0 249.6 L446.5 250.8 L448.0 252.1 L449.5 253.3 L451.0 254.4 L452.5 255.6 L454.0 256.7 L455.5 257.7 L457.0 258.8 L458.5 259.8 L460.0 260.8 L461.5 261.8 L463.0 262.7 L464.5 263.7 L466.0 264.6 L467.5 265.5 L469.0 266.3 L470.5 267.2 L472.0 268.0 L473.5 268.8 L475.0 269.6 L476.5 270.4 L478.0 271.1 L479.5 271.8 L481.0 272.6 L482.5 273.3 L484.0 273.9 L485.5 274.6 L487.0 275.3 L488.5 275.9 L490.0 276.5 L491.5 277.2 L493.0 277.8 L494.5 278.3 L496.0 278.9 L497.5 279.5 L499.0 280.0 L500.5 280.6 L502.0 281.1 L503.5 281.6 L505.0 282.1 L506.5 282.6 L508.0 283.1 L509.5 283.6 L511.0 284.1 L512.5 284.5 L514.0 285.0 L515.5 285.4 L517.0 285.8 L518.5 286.3 L520.0 286.7 L521.5 287.1 L523.0 287.5 L524.5 287.9 L526.0 288.3 L527.5 288.6 L529.0 289.0 L530.5 289.4 L532.0 289.7 L533.5 290.1 L535.0 290.4 L536.5 290.8 L538.0 291.1 L539.5 291.4 L541.0 291.7 L542.5 292.1 L544.0 292.4 L545.5 292.7 L547.0 293.0 L548.5 293.3 L550.0 293.5 L551.5 293.8 L553.0 294.1 L554.5 294.4 L556.0 294.7 L557.5 294.9 L559.0 295.2 L560.5 295.4 L562.0 295.7 L563.5 295.9 L565.0 296.2 L566.5 296.4 L568.0 296.6 L569.5 296.9 L571.0 297.1 L572.5 297.3 L574.0 297.6 L575.5 297.8 L577.0 298.0 L578.5 298.2 L580.0 298.4 L581.5 298.6 L583.0 298.8 L584.5 299.0 L586.0 299.2 L587.5 299.4 L589.0 299.6 L590.5 299.8 L592.0 300.0 L593.5 300.1 L595.0 300.3 L596.5 300.5 L598.0 300.7 L599.5 300.8 L601.0 301.0 L602.5 301.2 L604.0 301.3 L605.5 301.5 L607.0 301.7 L608.5 301.8 L610.0 302.0 L611.5 302.1 L613.0 302.3 L614.5 302.4 L616.0 302.6 L617.5 302.7 L619.0 302.9 L620.5 303.0 L622.0 303.1 L623.5 303.3 L625.0 303.4 L626.5 303.5 L628.0 303.7 L629.5 303.8 L631.0 303.9 L632.5 304.1 L634.0 304.2 L635.5 304.3 L637.0 304.4 L638.5 304.5 L640.0 304.7 L641.5 304.8 L643.0 304.9 L644.5 305.0 L646.0 305.1 L647.5 305.2" stroke="#4DBEEE"/>
<path d="M35.5 312.2 L37.0 312.1 L38.5 312.0 L40.0 311.9 L41.5 311.8 L43.0 311.7 L44.5 311.6 L46.0 311.5 L47.5 311.4 L49.0 311.3 L50.5 311.2 L52.0 311.1 L53.5 311.0 L55.0 310.9 L56.5 310.7 L58.0 310.6 L59.5 310.5 L61.0 310.4 L62.5 310.2 L64.0 310.1 L65.5 310.0 L67.0 309.9 L68.5 309.7 L70.0 309.6 L71.5 309.4 L73.0 309.3 L74.5 309.2 L76.0 309.0 L77.5 308.9 L79.0 308.7 L80.5 308.6 L82.0 308.4 L83.5 308.3 L85.0 308.1 L86.5 307.9 L88.0 307.8 L89.5 307.6 L91.0 307.4 L92.5 307.2 L94.0 307.1 L95.5 306.9 L97.0 306.7 L98.5 306.5 L100.0 306.3 L101.5 306.1 L103.0 305.9 L104.5 305.7 L106.0 305.5 L107.5 305.3 L109.0 305.1 L110.5 304.8 L112.0 304.6 L113.5 304.4 L115.0 304.2 L116.5 303.9 L118.0 303.7 L119.5 303.4 L121.0 303.2 L122.5 302.9 L124.0 302.7 L125.5 302.4 L127.0 302.1 L128.5 301.8 L130.0 301.6 L131.5 301.3 L133.0 301.0 L134.5 300.7 L136.0 300.4 L137.5 300.0 L139.0 299.7 L140.5 299.4 L142.0 299.1 L143.5 298.7 L145.0 298.4 L146.5 298.0 L148.0 297.6 L149.5 297.3 L151.0 296.9 L152.5 296.5 L154.0 296.1 L155.5 295.7 L157.0 295.3 L158.5 294.8 L160.0 294.4 L161.5 294.0 L163.0 293.5 L164.5 293.0 L166.0 292.6 L167.5 292.1 L169.0 291.6 L170.5 291.0 L172.0 290.5 L173.5 290.0 L175.0 289.4 L176.5 288.9 L178.0 288.3 L179.5 287.7 L181.0 287.1 L182.5 286.5 L184.0 285.8 L185.5 285.2 L187.0 284.5 L188.5 283.8 L190.0 283.1 L191.5 282.4 L193.0 281.6 L194.5 280.9 L196.0 280.1 L197.5 279.3 L199.0 278.5 L200.5 277.6 L202.0 276.8 L203.5 275.9 L205.0 274.9 L206.5 274.0 L208.0 273.0 L209.5 272.0 L211.0 271.0 L212.5 270.0 L214.0 268.9 L215.5 267.8 L217.0 266.6 L218.5 265.5 L220.0 264.3 L221.5 263.0 L223.0 261.7 L224.5 260.4 L226.0 259.1 L227.5 257.7 L229.0 256.2 L230.5 254.8 L232.0 253.2 L233.5 251.7 L235.0 250.1 L236.5 248.4 L238.0 246.7 L239.5 244.9 L241.0 243.1 L242.5 241.2 L244.0 239.3 L245.5 237.3 L247.0 235.3 L248.5 233.2 L250.0 231.0 L251.5 228.8 L253.0 226.5 L254.5 224.1 L256.0 221.6 L257.5 219.1 L259.0 216.5 L260.5 213.8 L262.0 211.1 L263.5 208.3 L265.0 205.3 L266.5 202.3 L268.0 199.2 L269.5 196.0 L271.0 192.8 L272.5 189.4 L274.0 185.9 L275.5 182.4 L277.0 178.7 L278.5 175.0 L280.0 171.2 L281.5 167.2 L283.0 163.2 L284.5 159.1 L286.0 154.8 L287.5 150.5 L289.0 146.1 L290.5 141.7 L292.0 137.1 L293.5 132.4 L295.0 127.7 L296.5 122.9 L298.0 118.1 L299.5 113.2 L301.0 108.3 L302.5 103.3 L304.0 98.3 L305.5 93.4 L307.0 88.4 L308.5 83.4 L310.0 78.5 L311.5 73.6 L313.0 68.8 L314.5 64.1 L316.0 59.5 L317.5 55.0 L319.0 50.7 L320.5 46.5 L322.0 42.5 L323.5 38.8 L325.0 35.2 L326.5 32.0 L328.0 28.9 L329.5 26.2 L331.0 23.8 L332.5 21.7 L334.0 19.9 L335.5 18.4 L337.0 17.3 L338.5 16.6 L340.0 16.2 L341.5 16.1 L343.0 16.4 L344.5 17.1 L346.0 18.1 L347.5 19.4 L349.0 21.1 L350.5 23.1 L352.0 25.4 L353.5 27.9 L355.0 30.7 L356.5 33.8 L358.0 37.1 L359.5 40.6 L361.0 44.3 L362.5 48.1 L364.0 52.1 L365.5 56.3 L367.0 60.5 L368.5 64.8 L370.0 69.3 L371.5 73.7 L373.0 78.3 L374.5 82.8 L376.0 87.4 L377.5 91.9 L379.0 96.5 L380.5 101.0 L382.0 105.6 L383.5 110.0 L385.0 114.5 L386.5 118.9 L388.0 123.2 L389.5 127.5 L391.0 131.7 L392.5 135.8 L394.0 139.8 L395.5 143.8 L397.0 147.7 L398.5 151.6 L400.0 155.3 L401.5 159.0 L403.0 162.5 L404.5 166.0 L406.0 169.4 L407.5 172.8 L409.0 176.0 L410.5 179.2 L412.0 182.3 L413.5 185.3 L415.0 188.2 L416.5 191.1 L418.0 193.9 L419.5 196.6 L421.0 199.2 L422.5 201.8 L424.0 204.3 L425.5 206.7 L427.0 209.1 L428.5 211.4 L430.0 213.6 L431.5 215.8 L433.0 217.9 L434.5 220.0 L436.0 222.0 L437.5 224.0 L439.0 225.9 L440.5 227.7 L442.0 229.5 L443.5 231.3 L445.0 233.0 L446.5 234.7 L448.0 236.3 L449.5 237.9 L451.0 239.4 L452.5 240.9 L454.0 242.3 L455.5 243.8 L457.0 245.2 L458.5 246.5 L460.0 247.8 L461.5 249.1 L463.0 250.3 L464.5 251.6 L466.0 252.7 L467.5 253.9 L469.0 255.0 L470.5 256.1 L472.0 257.2 L473.5 258.2 L475.0 259.3 L476.5 260.3 L478.0 261.2 L479.5 262.2 L481.0 263.1 L482.5 264.0 L484.0 264.9 L485.5 265.8 L487.0 266.6 L488.5 267.4 L490.0 268.2 L491.5 269.0 L493.0 269.8 L494.5 270.5 L496.0 271.3 L497.5 272.0 L499.0 272.7 L500.5 273.4 L502.0 274.1 L503.5 274.7 L505.0 275.4 L506.5 276.0 L508.0 276.6 L509.5 277.2 L511.0 277.8 L512.5 278.4 L514.0 278.9 L515.5 279.5 L517.0 280.0 L518.5 280.6 L520.0 281.1 L521.5 281.6 L523.0 282.1 L524.5 282.6 L526.0 283.1 L527.5 283.5 L529.0 284.0 L530.5 284.5 L532.0 284.9 L533.5 285.3 L535.0 285.8 L536.5 286.2 L538.0 286.6 L539.5 287.0 L541.0 287.4 L542.5 287.8 L544.0 288.2 L545.5 288.5 L547.0 288.9 L548.5 289.3 L550.0 289.6 L551.5 290.0 L553.0 290.3 L554.5 290.6 L556.0 291.0 L557.5 291.3 L559.0 291.6 L560.5 291.9 L562.0 292.2 L563.5 292.5 L565.0 292.8 L566.5 293.1 L568.0 293.4 L569.5 293.7 L571.0 294.0 L572.5 294.2 L574.0 294.5 L575.5 294.8 L577.0 295.0 L578.5 295.3 L580.0 295.5 L581.5 295.8 L583.0 296.0 L584.5 296.3 L586.0 296.5 L587.5 296.7 L589.0 297.0 L590.5 297.2 L592.0 297.4 L593.5 297.6 L595.0 297.8 L596.5 298.1 L598.0 298.3 L599.5 298.5 L601.0 298.7 L602.5 298.9 L604.0 299.1 L605.5 299.3 L607.0 299.4 L608.5 299.6 L610.0 299.8 L611.5 300.0 L613.0 300.2 L614.5 300.4 L616.0 300.5 L617.5 300.7 L619.0 300.9 L620.5 301.0 L622.0 301.2 L623.5 301.4 L625.0 301.5 L626.5 301.7 L628.0 301.8 L629.5 302.0 L631.0 302.1 L632.5 302.3 L634.0 302.4 L635.5 302.6 L637.0 302.7 L638.5 302.9 L640.0 303.0 L641.5 303.1 L643.0 303.3 L644.5 303.4 L646.0 303.5 L647.5 303.7" stroke="#A2142F"/>
<path d="M35.5 312.4 L37.0 312.4 L38.5 312.3 L40.0 312.2 L41.5 312.1 L43.0 312.0 L44.5 311.9 L46.0 311.8 L47.5 311.7 L49.0 311.6 L50.5 311.5 L52.0 311.4 L53.5 311.2 L55.0 311.1 L56.5 311.0 L58.0 310.9 L59.5 310.8 L61.0 310.7 L62.5 310.6 L64.0 310.4 L65.5 310.3 L67.0 310.2 L68.5 310.1 L70.0 309.9 L71.5 309.8 L73.0 309.7 L74.5 309.5 L76.0 309.4 L77.5 309.3 L79.0 309.1 L80.5 309.0 L82.0 308.8 L83.5 308.7 L85.0 308.5 L86.5 308.4 L88.0 308.2 L89.5 308.0 L91.0 307.9 L92.5 307.7 L94.0 307.5 L95.5 307.4 L97.0 307.2 L98.5 307.0 L100.0 306.8 L101.5 306.6 L103.0 306.5 L104.5 306.3 L106.0 306.1 L107.5 305.9 L109.0 305.7 L110.5 305.5 L112.0 305.2 L113.5 305.0 L115.0 304.8 L116.5 304.6 L118.0 304.4 L119.5 304.1 L121.0 303.9 L122.5 303.7 L124.0 303.4 L125.5 303.2 L127.0 302.9 L128.5 302.6 L130.0 302.4 L131.5 302.1 L133.0 301.8 L134.5 301.6 L136.0 301.3 L137.5 301.0 L139.0 300.7 L140.5 300.4 L142.0 300.1 L143.5 299.7 L145.0 299.4 L146.5 299.1 L148.0 298.7 L149.5 298.4 L151.0 298.0 L152.5 297.7 L154.0 297.3 L155.5 296.9 L157.0 296.5 L158.5 296.2 L160.0 295.7 L161.5 295.3 L163.0 294.9 L164.5 294.5 L166.0 294.0 L167.5 293.6 L169.0 293.1 L170.5 292.7 L172.0 292.2 L173.5 291.7 L175.0 291.2 L176.5 290.7 L178.0 290.1 L179.5 289.6 L181.0 289.0 L182.5 288.5 L184.0 287.9 L185.5 287.3 L187.0 286.7 L188.5 286.1 L190.0 285.4 L191.5 284.8 L193.0 284.1 L194.5 283.4 L196.0 282.7 L197.5 282.0 L199.0 281.2 L200.5 280.4 L202.0 279.7 L203.5 278.9 L205.0 278.0 L206.5 277.2 L208.0 276.3 L209.5 275.4 L211.0 274.5 L212.5 273.6 L214.0 272.6 L215.5 271.6 L217.0 270.6 L218.5 269.5 L220.0 268.4 L221.5 267.3 L223.0 266.2 L224.5 265.0 L226.0 263.8 L227.5 262.6 L229.0 261.3 L230.5 260.0 L232.0 258.6 L233.5 257.2 L235.0 255.8 L236.5 254.3 L238.0 252.8 L239.5 251.3 L241.0 249.7 L242.5 248.0 L244.0 246.3 L245.5 244.6 L247.0 242.8 L248.5 240.9 L250.0 239.0 L251.5 237.0 L253.0 235.0 L254.5 232.9 L256.0 230.8 L257.5 228.5 L259.0 226.3 L260.5 223.9 L262.0 221.5 L263.5 219.0 L265.0 216.4 L266.5 213.8 L268.0 211.1 L269.5 208.3 L271.0 205.4 L272.5 202.4 L274.0 199.4 L275.5 196.2 L277.0 193.0 L278.5 189.7 L280.0 186.3 L281.5 182.8 L283.0 179.2 L284.5 175.5 L286.0 171.7 L287.5 167.9 L289.0 163.9 L290.5 159.9 L292.0 155.7 L293.5 151.5 L295.0 147.2 L296.5 142.8 L298.0 138.3 L299.5 133.7 L301.0 129.1 L302.5 124.4 L304.0 119.6 L305.5 114.8 L307.0 109.9 L308.5 105.1 L310.0 100.1 L311.5 95.2 L313.0 90.3 L314.5 85.4 L316.0 80.5 L317.5 75.7 L319.0 70.9 L320.5 66.2 L322.0 61.6 L323.5 57.1 L325.0 52.7 L326.5 48.5 L328.0 44.5 L329.5 40.7 L331.0 37.1 L332.5 33.7 L334.0 30.5 L335.5 27.6 L337.0 25.0 L338.5 22.7 L340.0 20.7 L341.5 19.1 L343.0 17.7 L344.5 16.7 L346.0 16.1 L347.5 15.8 L349.0 15.8 L350.5 16.2 L352.0 16.9 L353.5 18.0 L355.0 19.3 L356.5 21.0 L358.0 23.0 L359.5 25.3 L361.0 27.8 L362.5 30.6 L364.0 33.6 L365.5 36.9 L367.0 40.4 L368.5 44.0 L370.0 47.8 L371.5 51.7 L373.0 55.8 L374.5 60.0 L376.0 64.3 L377.5 68.6 L379.0 73.0 L380.5 77.5 L382.0 81.9 L383.5 86.4 L385.0 90.9 L386.5 95.4 L388.0 99.9 L389.5 104.4 L391.0 108.8 L392.5 113.2 L394.0 117.5 L395.5 121.8 L397.0 126.0 L398.5 130.2 L400.0 134.2 L401.5 138.3 L403.0 142.2 L404.5 146.1 L406.0 149.9 L407.5 153.6 L409.0 157.2 L410.5 160.8 L412.0 164.3 L413.5 167.7 L415.0 171.0 L416.5 174.2 L418.0 177.4 L419.5 180.5 L421.0 183.5 L422.5 186.4 L424.0 189.2 L425.5 192.0 L427.0 194.7 L428.5 197.4 L430.0 200.0 L431.5 202.5 L433.0 204.9 L434.5 207.3 L436.0 209.6 L437.5 211.8 L439.0 214.0 L440.5 216.2 L442.0 218.2 L443.5 220.3 L445.0 222.2 L446.5 224.1 L448.0 226.0 L449.5 227.8 L451.0 229.6 L452.5 231.3 L454.0 233.0 L455.5 234.6 L457.0 236.2 L458.5 237.8 L460.0 239.3 L461.5 240.8 L463.0 242.2 L464.5 243.6 L466.0 245.0 L467.5 246.3 L469.0 247.6 L470.5 248.8 L472.0 250.1 L473.5 251.3 L475.0 252.4 L476.5 253.6 L478.0 254.7 L479.5 255.8 L481.0 256.8 L482.5 257.9 L484.0 258.9 L485.5 259.9 L487.0 260.8 L488.5 261.8 L490.0 262.7 L491.5 263.6 L493.0 264.5 L494.5 265.3 L496.0 266.2 L497.5 267.0 L499.0 267.8 L500.5 268.6 L502.0 269.3 L503.5 270.1 L505.0 270.8 L506.5 271.5 L508.0 272.2 L509.5 272.9 L511.0 273.6 L512.5 274.2 L514.0 274.9 L515.5 275.5 L517.0 276.1 L518.5 276.7 L520.0 277.3 L521.5 277.9 L523.0 278.4 L524.5 279.0 L526.0 279.5 L527.5 280.1 L529.0 280.6 L530.5 281.1 L532.0 281.6 L533.5 282.1 L535.0 282.6 L536.5 283.0 L538.0 283.5 L539.5 284.0 L541.0 284.4 L542.5 284.8 L544.0 285.3 L545.5 285.7 L547.0 286.1 L548.5 286.5 L550.0 286.9 L551.5 287.3 L553.0 287.7 L554.5 288.0 L556.0 288.4 L557.5 288.8 L559.0 289.1 L560.5 289.5 L562.0 289.8 L563.5 290.2 L565.0 290.5 L566.5 290.8 L568.0 291.1 L569.5 291.4 L571.0 291.8 L572.5 292.1 L574.0 292.4 L575.5 292.6 L577.0 292.9 L578.5 293.2 L580.0 293.5 L581.5 293.8 L583.0 294.0 L584.5 294.3 L586.0 294.6 L587.5 294.8 L589.0 295.1 L590.5 295.3 L592.0 295.6 L593.5 295.8 L595.0 296.1 L596.5 296.3 L598.0 296.5 L599.5 296.7 L601.0 297.0 L602.5 297.2 L604.0 297.4 L605.5 297.6 L607.0 297.8 L608.5 298.0 L610.0 298.2 L611.5 298.4 L613.0 298.6 L614.5 298.8 L616.0 299.0 L617.5 299.2 L619.0 299.4 L620.5 299.6 L622.0 299.8 L623.5 299.9 L625.0 300.1 L626.5 300.3 L628.0 300.5 L629.5 300.6 L631.0 300.8 L632.5 301.0 L634.0 301.1 L635.5 301.3 L637.0 301.4 L638.5 301.6 L640.0 301.7 L641.5 301.9 L643.0 302.0 L644.5 302.2 L646.0 302.3 L647.5 302.5" stroke="#0072BD"/>
<path d="M35.5 312.9 L37.0 312.8 L38.5 312.7 L40.0 312.6 L41.5 312.5 L43.0 312.4 L44.5 312.3 L46.0 312.2 L47.5 312.1 L49.0 312.0 L50.5 311.9 L52.0 311.8 L53.5 311.7 L55.0 311.6 L56.5 311.5 L58.0 311.4 L59.5 311.3 L61.0 311.2 L62.5 311.1 L64.0 311.0 L65.5 310.9 L67.0 310.7 L68.5 310.6 L70.0 310.5 L71.5 310.4 L73.0 310.2 L74.5 310.1 L76.0 310.0 L77.5 309.9 L79.0 309.7 L80.5 309.6 L82.0 309.4 L83.5 309.3 L85.0 309.2 L86.5 309.0 L88.0 308.9 L89.5 308.7 L91.0 308.5 L92.5 308.4 L94.0 308.2 L95.5 308.1 L97.0 307.9 L98.5 307.7 L100.0 307.6 L101.5 307.4 L103.0 307.2 L104.5 307.0 L106.0 306.8 L107.5 306.7 L109.0 306.5 L110.5 306.3 L112.0 306.1 L113.5 305.9 L115.0 305.7 L116.5 305.4 L118.0 305.2 L119.5 305.0 L121.0 304.8 L122.5 304.6 L124.0 304.3 L125.5 304.1 L127.0 303.9 L128.5 303.6 L130.0 303.4 L131.5 303.1 L133.0 302.9 L134.5 302.6 L136.0 302.3 L137.5 302.0 L139.0 301.8 L140.5 301.5 L142.0 301.2 L143.5 300.9 L145.0 300.6 L146.5 300.3 L148.0 299.9 L149.5 299.6 L151.0 299.3 L152.5 298.9 L154.0 298.6 L155.5 298.3 L157.0 297.9 L158.5 297.5 L160.0 297.1 L161.5 296.8 L163.0 296.4 L164.5 296.0 L166.0 295.5 L167.5 295.1 L169.0 294.7 L170.5 294.3 L172.0 293.8 L173.5 293.3 L175.0 292.9 L176.5 292.4 L178.0 291.9 L179.5 291.4 L181.0 290.9 L182.5 290.3 L184.0 289.8 L185.5 289.3 L187.0 288.7 L188.5 288.1 L190.0 287.5 L191.5 286.9 L193.0 286.3 L194.5 285.6 L196.0 285.0 L197.5 284.3 L199.0 283.6 L200.5 282.9 L202.0 282.2 L203.5 281.4 L205.0 280.7 L206.5 279.9 L208.0 279.1 L209.5 278.2 L211.0 277.4 L212.5 276.5 L214.0 275.6 L215.5 274.7 L217.0 273.8 L218.5 272.8 L220.0 271.8 L221.5 270.8 L223.0 269.7 L224.5 268.6 L226.0 267.5 L227.5 266.4 L229.0 265.2 L230.5 264.0 L232.0 262.7 L233.5 261.5 L235.0 260.2 L236.5 258.8 L238.0 257.4 L239.5 256.0 L241.0 254.5 L242.5 253.0 L244.0 251.4 L245.5 249.8 L247.0 248.2 L248.5 246.5 L250.0 244.7 L251.5 242.9 L253.0 241.0 L254.5 239.1 L256.0 237.2 L257.5 235.1 L259.0 233.0 L260.5 230.9 L262.0 228.6 L263.5 226.4 L265.0 224.0 L266.5 221.6 L268.0 219.1 L269.5 216.5 L271.0 213.9 L272.5 211.1 L274.0 208.3 L275.5 205.4 L277.0 202.5 L278.5 199.4 L280.0 196.3 L281.5 193.0 L283.0 189.7 L284.5 186.3 L286.0 182.8 L287.5 179.2 L289.0 175.5 L290.5 171.7 L292.0 167.8 L293.5 163.9 L295.0 159.8 L296.5 155.7 L298.0 151.4 L299.5 147.1 L301.0 142.7 L302.5 138.2 L304.0 133.6 L305.5 129.0 L307.0 124.3 L308.5 119.5 L310.0 114.7 L311.5 109.8 L313.0 104.9 L314.5 100.0 L316.0 95.1 L317.5 90.1 L319.0 85.2 L320.5 80.3 L322.0 75.5 L323.5 70.7 L325.0 66.0 L326.5 61.4 L328.0 56.9 L329.5 52.6 L331.0 48.4 L332.5 44.3 L334.0 40.5 L335.5 36.8 L337.0 33.4 L338.5 30.3 L340.0 27.4 L341.5 24.8 L343.0 22.5 L344.5 20.5 L346.0 18.8 L347.5 17.4 L349.0 16.4 L350.5 15.8 L352.0 15.4 L353.5 15.4 L355.0 15.8 L356.5 16.5 L358.0 17.5 L359.5 18.9 L361.0 20.5 L362.5 22.5 L364.0 24.7 L365.5 27.2 L367.0 30.0 L368.5 33.0 L370.0 36.2 L371.5 39.6 L373.0 43.3 L374.5 47.0 L376.0 50.9 L377.5 55.0 L379.0 59.1 L380.5 63.4 L382.0 67.7 L383.5 72.1 L385.0 76.5 L386.5 81.0 L388.0 85.4 L389.5 89.9 L391.0 94.4 L392.5 98.9 L394.0 103.3 L395.5 107.7 L397.0 112.1 L398.5 116.4 L400.0 120.7 L401.5 124.9 L403.0 129.0 L404.5 133.1 L406.0 137.1 L407.5 141.0 L409.0 144.9 L410.5 148.7 L412.0 152.4 L413.5 156.1 L415.0 159.6 L416.5 163.1 L418.0 166.5 L419.5 169.8 L421.0 173.0 L422.5 176.2 L424.0 179.3 L425.5 182.3 L427.0 185.2 L428.5 188.1 L430.0 190.9 L431.5 193.6 L433.0 196.2 L434.5 198.8 L436.0 201.3 L437.5 203.8 L439.0 206.2 L440.5 208.5 L442.0 210.7 L443.5 212.9 L445.0 215.1 L446.5 217.2 L448.0 219.2 L449.5 221.2 L451.0 223.1 L452.5 225.0 L454.0 226.8 L455.5 228.6 L457.0 230.3 L458.5 232.0 L460.0 233.6 L461.5 235.2 L463.0 236.8 L464.5 238.3 L466.0 239.8 L467.5 241.2 L469.0 242.6 L470.5 244.0 L472.0 245.3 L473.5 246.6 L475.0 247.9 L476.5 249.1 L478.0 250.3 L479.5 251.5 L481.0 252.7 L482.5 253.8 L484.0 254.9 L485.5 256.0 L487.0 257.0 L488.5 258.0 L490.0 259.0 L491.5 260.0 L493.0 260.9 L494.5 261.9 L496.0 262.8 L497.5 263.6 L499.0 264.5 L500.5 265.4 L502.0 266.2 L503.5 267.0 L505.0 267.8 L506.5 268.5 L508.0 269.3 L509.5 270.0 L511.0 270.7 L512.5 271.5 L514.0 272.1 L515.5 272.8 L517.0 273.5 L518.5 274.1 L520.0 274.8 L521.5 275.4 L523.0 276.0 L524.5 276.6 L526.0 277.2 L527.5 277.7 L529.0 278.3 L530.5 278.8 L532.0 279.4 L533.5 279.9 L535.0 280.4 L536.5 280.9 L538.0 281.4 L539.5 281.9 L541.0 282.4 L542.5 282.8 L544.0 283.3 L545.5 283.7 L547.0 284.2 L548.5 284.6 L550.0 285.0 L551.5 285.5 L553.0 285.9 L554.5 286.3 L556.0 286.7 L557.5 287.0 L559.0 287.4 L560.5 287.8 L562.0 288.2 L563.5 288.5 L565.0 288.9 L566.5 289.2 L568.0 289.6 L569.5 289.9 L571.0 290.2 L572.5 290.6 L574.0 290.9 L575.5 291.2 L577.0 291.5 L578.5 291.8 L580.0 292.1 L581.5 292.4 L583.0 292.7 L584.5 292.9 L586.0 293.2 L587.5 293.5 L589.0 293.8 L590.5 294.0 L592.0 294.3 L593.5 294.5 L595.0 294.8 L596.5 295.0 L598.0 295.3 L599.5 295.5 L601.0 295.8 L602.5 296.0 L604.0 296.2 L605.5 296.5 L607.0 296.7 L608.5 296.9 L610.0 297.1 L611.5 297.3 L613.0 297.5 L614.5 297.7 L616.0 297.9 L617.5 298.1 L619.0 298.3 L620.5 298.5 L622.0 298.7 L623.5 298.9 L625.0 299.1 L626.5 299.3 L628.0 299.5 L629.5 299.6 L631.0 299.8 L632.5 300.0 L634.0 300.2 L635.5 300.3 L637.0 300.5 L638.5 300.7 L640.0 300.8 L641.5 301.0 L643.0 301.1 L644.5 301.3 L646.0 301.4 L647.5 301.6" stroke="#D95319"/>
<path d="M35.5 313.3 L37.0 313.2 L38.5 313.2 L40.0 313.1 L41.5 313.0 L43.0 312.9 L44.5 312.8 L46.0 312.7 L47.5 312.6 L49.0 312.5 L50.5 312.5 L52.0 312.4 L53.5 312.3 L55.0 312.2 L56.5 312.1 L58.0 312.0 L59.5 311.9 L61.0 311.8 L62.5 311.7 L64.0 311.5 L65.5 311.4 L67.0 311.3 L68.5 311.2 L70.0 311.1 L71.5 311.0 L73.0 310.9 L74.5 310.7 L76.0 310.6 L77.5 310.5 L79.0 310.4 L80.5 310.2 L82.0 310.1 L83.5 310.0 L85.0 309.8 L86.5 309.7 L88.0 309.6 L89.5 309.4 L91.0 309.3 L92.5 309.1 L94.0 309.0 L95.5 308.8 L97.0 308.7 L98.5 308.5 L100.0 308.4 L101.5 308.2 L103.0 308.0 L104.5 307.9 L106.0 307.7 L107.5 307.5 L109.0 307.4 L110.5 307.2 L112.0 307.0 L113.5 306.8 L115.0 306.6 L116.5 306.4 L118.0 306.2 L119.5 306.0 L121.0 305.8 L122.5 305.6 L124.0 305.4 L125.5 305.2 L127.0 305.0 L128.5 304.7 L130.0 304.5 L131.5 304.3 L133.0 304.0 L134.5 303.8 L136.0 303.5 L137.5 303.3 L139.0 303.0 L140.5 302.8 L142.0 302.5 L143.5 302.2 L145.0 302.0 L146.5 301.7 L148.0 301.4 L149.5 301.1 L151.0 300.8 L152.5 300.5 L154.0 300.2 L155.5 299.8 L157.0 299.5 L158.5 299.2 L160.0 298.8 L161.5 298.5 L163.0 298.1 L164.5 297.8 L166.0 297.4 L167.5 297.0 L169.0 296.6 L170.5 296.2 L172.0 295.8 L173.5 295.4 L175.0 295.0 L176.5 294.6 L178.0 294.1 L179.5 293.7 L181.0 293.2 L182.5 292.7 L184.0 292.2 L185.5 291.7 L187.0 291.2 L188.5 290.7 L190.0 290.2 L191.5 289.6 L193.0 289.1 L194.5 288.5 L196.0 287.9 L197.5 287.3 L199.0 286.7 L200.5 286.1 L202.0 285.5 L203.5 284.8 L205.0 284.1 L206.5 283.4 L208.0 282.7 L209.5 282.0 L211.0 281.2 L212.5 280.5 L214.0 279.7 L215.5 278.9 L217.0 278.1 L218.5 277.2 L220.0 276.3 L221.5 275.4 L223.0 274.5 L224.5 273.6 L226.0 272.6 L227.5 271.6 L229.0 270.6 L230.5 269.6 L232.0 268.5 L233.5 267.4 L235.0 266.2 L236.5 265.1 L238.0 263.9 L239.5 262.6 L241.0 261.4 L242.5 260.0 L244.0 258.7 L245.5 257.3 L247.0 255.9 L248.5 254.4 L250.0 252.9 L251.5 251.4 L253.0 249.8 L254.5 248.2 L256.0 246.5 L257.5 244.7 L259.0 243.0 L260.5 241.1 L262.0 239.2 L263.5 237.3 L265.0 235.3 L266.5 233.2 L268.0 231.1 L269.5 228.9 L271.0 226.6 L272.5 224.3 L274.0 221.9 L275.5 219.5 L277.0 217.0 L278.5 214.4 L280.0 211.7 L281.5 208.9 L283.0 206.1 L284.5 203.2 L286.0 200.2 L287.5 197.1 L289.0 194.0 L290.5 190.7 L292.0 187.4 L293.5 183.9 L295.0 180.4 L296.5 176.8 L298.0 173.1 L299.5 169.4 L301.0 165.5 L302.5 161.5 L304.0 157.5 L305.5 153.3 L307.0 149.1 L308.5 144.8 L310.0 140.4 L311.5 136.0 L313.0 131.4 L314.5 126.8 L316.0 122.2 L317.5 117.5 L319.0 112.7 L320.5 107.9 L322.0 103.1 L323.5 98.2 L325.0 93.4 L326.5 88.5 L328.0 83.7 L329.5 78.9 L331.0 74.1 L332.5 69.5 L334.0 64.8 L335.5 60.3 L337.0 55.9 L338.5 51.6 L340.0 47.5 L341.5 43.6 L343.0 39.8 L344.5 36.2 L346.0 32.9 L347.5 29.7 L349.0 26.9 L350.5 24.3 L352.0 22.0 L353.5 20.0 L355.0 18.3 L356.5 16.9 L358.0 15.8 L359.5 15.1 L361.0 14.7 L362.5 14.6 L364.0 14.8 L365.5 15.4 L367.0 16.3 L368.5 17.5 L370.0 19.0 L371.5 20.8 L373.0 22.9 L374.5 25.2 L376.0 27.8 L377.5 30.6 L379.0 33.7 L380.5 36.9 L382.0 40.3 L383.5 43.9 L385.0 47.6 L386.5 51.5 L388.0 55.5 L389.5 59.6 L391.0 63.7 L392.5 68.0 L394.0 72.2 L395.5 76.6 L397.0 80.9 L398.5 85.3 L400.0 89.7 L401.5 94.0 L403.0 98.4 L404.5 102.7 L406.0 107.0 L407.5 111.3 L409.0 115.5 L410.5 119.6 L412.0 123.7 L413.5 127.8 L415.0 131.8 L416.5 135.7 L418.0 139.5 L419.5 143.3 L421.0 147.0 L422.5 150.7 L424.0 154.2 L425.5 157.7 L427.0 161.1 L428.5 164.5 L430.0 167.7 L431.5 170.9 L433.0 174.0 L434.5 177.1 L436.0 180.0 L437.5 182.9 L439.0 185.8 L440.5 188.5 L442.0 191.2 L443.5 193.8 L445.0 196.4 L446.5 198.9 L448.0 201.3 L449.5 203.7 L451.0 206.0 L452.5 208.2 L454.0 210.4 L455.5 212.5 L457.0 214.6 L458.5 216.6 L460.0 218.6 L461.5 220.5 L463.0 222.4 L464.5 224.2 L466.0 226.0 L467.5 227.7 L469.0 229.4 L470.5 231.1 L472.0 232.7 L473.5 234.2 L475.0 235.8 L476.5 237.3 L478.0 238.7 L479.5 240.1 L481.0 241.5 L482.5 242.8 L484.0 244.2 L485.5 245.4 L487.0 246.7 L488.5 247.9 L490.0 249.1 L491.5 250.3 L493.0 251.4 L494.5 252.5 L496.0 253.6 L497.5 254.6 L499.0 255.7 L500.5 256.7 L502.0 257.7 L503.5 258.6 L505.0 259.6 L506.5 260.5 L508.0 261.4 L509.5 262.3 L511.0 263.1 L512.5 264.0 L514.0 264.8 L515.5 265.6 L517.0 266.4 L518.5 267.1 L520.0 267.9 L521.5 268.6 L523.0 269.3 L524.5 270.0 L526.0 270.7 L527.5 271.4 L529.0 272.1 L530.5 272.7 L532.0 273.4 L533.5 274.0 L535.0 274.6 L536.5 275.2 L538.0 275.8 L539.5 276.3 L541.0 276.9 L542.5 277.4 L544.0 278.0 L545.5 278.5 L547.0 279.0 L548.5 279.5 L550.0 280.0 L551.5 280.5 L553.0 281.0 L554.5 281.5 L556.0 281.9 L557.5 282.4 L559.0 282.8 L560.5 283.3 L562.0 283.7 L563.5 284.1 L565.0 284.5 L566.5 284.9 L568.0 285.3 L569.5 285.7 L571.0 286.1 L572.5 286.5 L574.0 286.9 L575.5 287.2 L577.0 287.6 L578.5 287.9 L580.0 288.3 L581.5 288.6 L583.0 288.9 L584.5 289.3 L586.0 289.6 L587.5 289.9 L589.0 290.2 L590.5 290.5 L592.0 290.8 L593.5 291.1 L595.0 291.4 L596.5 291.7 L598.0 292.0 L599.5 292.3 L601.0 292.5 L602.5 292.8 L604.0 293.1 L605.5 293.3 L607.0 293.6 L608.5 293.9 L610.0 294.1 L611.5 294.3 L613.0 294.6 L614.5 294.8 L616.0 295.1 L617.5 295.3 L619.0 295.5 L620.5 295.7 L622.0 296.0 L623.5 296.2 L625.0 296.4 L626.5 296.6 L628.0 296.8 L629.5 297.0 L631.0 297.2 L632.5 297.4 L634.0 297.6 L635.5 297.8 L637.0 298.0 L638.5 298.2 L640.0 298.4 L641.5 298.6 L643.0 298.7 L644.5 298.9 L646.0 299.1 L647.5 299.3" stroke="#EDB120"/>
</g>
<g stroke="#262626" stroke-width="2.8" fill="none" stroke-linecap="square">
<rect x="35.5" y="4.5" width="612.9" height="316.0"/>
</g>
<g stroke="#262626" stroke-width="2.8" fill="none" stroke-linecap="butt">
<path d="M137.9 320.4 V313.1 M137.9 4.5 V11.8"/>
<path d="M240.1 320.4 V313.1 M240.1 4.5 V11.8"/>
<path d="M342.2 320.4 V313.1 M342.2 4.5 V11.8"/>
<path d="M444.4 320.4 V313.1 M444.4 4.5 V11.8"/>
<path d="M546.5 320.4 V313.1 M546.5 4.5 V11.8"/>
<path d="M35.5 288.8 H42.8 M648.4 288.8 H642.2"/>
<path d="M35.5 257.2 H42.8 M648.4 257.2 H642.2"/>
<path d="M35.5 225.6 H42.8 M648.4 225.6 H642.2"/>
<path d="M35.5 194.0 H42.8 M648.4 194.0 H642.2"/>
<path d="M35.5 162.4 H42.8 M648.4 162.4 H642.2"/>
<path d="M35.5 130.8 H42.8 M648.4 130.8 H642.2"/>
<path d="M35.5 99.2 H42.8 M648.4 99.2 H642.2"/>
<path d="M35.5 67.6 H42.8 M648.4 67.6 H642.2"/>
<path d="M35.5 36.1 H42.8 M648.4 36.1 H642.2"/>
</g>
<g font-family="'Liberation Sans', sans-serif" font-weight="bold" fill="#262626" stroke="#262626" stroke-width="0.2">
<text class="xt" transform="translate(36.2 336.3) scale(1.070 1)" font-size="11.00" text-anchor="middle">3.55</text>
<text class="xt" transform="translate(138.3 336.3) scale(1.070 1)" font-size="11.00" text-anchor="middle">3.6</text>
<text class="xt" transform="translate(240.5 336.3) scale(1.070 1)" font-size="11.00" text-anchor="middle">3.65</text>
<text class="xt" transform="translate(342.6 336.3) scale(1.070 1)" font-size="11.00" text-anchor="middle">3.7</text>
<text class="xt" transform="translate(444.8 336.3) scale(1.070 1)" font-size="11.00" text-anchor="middle">3.75</text>
<text class="xt" transform="translate(547.0 336.3) scale(1.070 1)" font-size="11.00" text-anchor="middle">3.8</text>
<text class="xt" transform="translate(649.1 336.3) scale(1.070 1)" font-size="11.00" text-anchor="middle">3.85</text>
<text class="yt" transform="translate(31.1 325.3) scale(1.070 1)" font-size="11.00" text-anchor="end">0</text>
<text class="yt" transform="translate(31.1 293.7) scale(1.070 1)" font-size="11.00" text-anchor="end">0.1</text>
<text class="yt" transform="translate(31.1 262.1) scale(1.070 1)" font-size="11.00" text-anchor="end">0.2</text>
<text class="yt" transform="translate(31.1 230.5) scale(1.070 1)" font-size="11.00" text-anchor="end">0.3</text>
<text class="yt" transform="translate(31.1 198.9) scale(1.070 1)" font-size="11.00" text-anchor="end">0.4</text>
<text class="yt" transform="translate(31.1 167.3) scale(1.070 1)" font-size="11.00" text-anchor="end">0.5</text>
<text class="yt" transform="translate(31.1 135.8) scale(1.070 1)" font-size="11.00" text-anchor="end">0.6</text>
<text class="yt" transform="translate(31.1 104.2) scale(1.070 1)" font-size="11.00" text-anchor="end">0.7</text>
<text class="yt" transform="translate(31.1 72.5) scale(1.070 1)" font-size="11.00" text-anchor="end">0.8</text>
<text class="yt" transform="translate(31.1 41.0) scale(1.070 1)" font-size="11.00" text-anchor="end">0.9</text>
<text class="yt" transform="translate(31.1 9.3) scale(1.070 1)" font-size="11.00" text-anchor="end">1</text>
<text transform="translate(370.2 353.6) scale(1.057 1)" font-size="12.4" text-anchor="end">Wavelength (</text>
<path d="M373.0 348.0 L371.6 355.9 M372.3 351.4 C372.3 353.3 375.9 353.2 377.3 349.6 M377.9 348.0 L377.3 351.3 C377.1 352.7 378.4 352.9 379.3 351.9" fill="none" stroke="#262626" stroke-width="1.2" stroke-linecap="round" stroke-linejoin="round"/>
<text transform="translate(379.6 353.6) scale(1.057 1)" font-size="12.4">m)</text>
<text id="ylab" transform="translate(11.2 163.2) rotate(-90) scale(1.04 1)" font-size="12.4" text-anchor="middle">Transmittance</text>
<path d="M406.3 18.0 H426.4" stroke="#0072BD" stroke-width="2.3" fill="none"/>
<text class="lg" fill="#000" stroke="#000" stroke-width="0.3" transform="translate(427.9 22.5) scale(1.023 1)" font-size="10.40">CSF</text>
<path d="M406.3 31.5 H426.4" stroke="#D95319" stroke-width="2.3" fill="none"/>
<text class="lg" fill="#000" stroke="#000" stroke-width="0.3" transform="translate(427.9 36.0) scale(1.023 1)" font-size="10.40">Wall of solid brain</text>
<path d="M406.3 45.5 H426.4" stroke="#EDB120" stroke-width="2.3" fill="none"/>
<text class="lg" fill="#000" stroke="#000" stroke-width="0.3" transform="translate(427.9 50.0) scale(1.023 1)" font-size="10.40">Multi sclerosis</text>
<path d="M406.3 59.4 H426.4" stroke="#7E2F8E" stroke-width="2.3" fill="none"/>
<text class="lg" fill="#000" stroke="#000" stroke-width="0.3" transform="translate(427.9 63.9) scale(1.023 1)" font-size="10.40">Oligodendroglioma</text>
<path d="M406.3 72.9 H426.4" stroke="#77AC30" stroke-width="2.3" fill="none"/>
<text class="lg" fill="#000" stroke="#000" stroke-width="0.3" transform="translate(427.9 77.4) scale(1.023 1)" font-size="10.40">Gray matter</text>
<path d="M529.4 18.0 H549.0" stroke="#4DBEEE" stroke-width="2.3" fill="none"/>
<text class="lg" fill="#000" stroke="#000" stroke-width="0.3" transform="translate(550.8 22.5) scale(1.023 1)" font-size="10.40">White matter</text>
<path d="M529.4 31.5 H549.0" stroke="#A2142F" stroke-width="2.3" fill="none"/>
<text class="lg" fill="#000" stroke="#000" stroke-width="0.3" transform="translate(550.8 36.0) scale(1.023 1)" font-size="10.40">Low grade glioma</text>
<path d="M529.4 45.5 H549.0" stroke="#0072BD" stroke-width="2.3" fill="none"/>
<text class="lg" fill="#000" stroke="#000" stroke-width="0.3" transform="translate(550.8 50.0) scale(1.023 1)" font-size="10.40">Medulloblastoma</text>
<path d="M529.4 59.4 H549.0" stroke="#D95319" stroke-width="2.3" fill="none"/>
<text class="lg" fill="#000" stroke="#000" stroke-width="0.3" transform="translate(550.8 63.9) scale(1.023 1)" font-size="10.40">Glioblastoma</text>
<path d="M529.4 72.9 H549.0" stroke="#EDB120" stroke-width="2.3" fill="none"/>
<text class="lg" fill="#000" stroke="#000" stroke-width="0.3" transform="translate(550.8 77.4) scale(1.023 1)" font-size="10.40">Lymphoma</text>
</g>
</svg>
</body></html>
